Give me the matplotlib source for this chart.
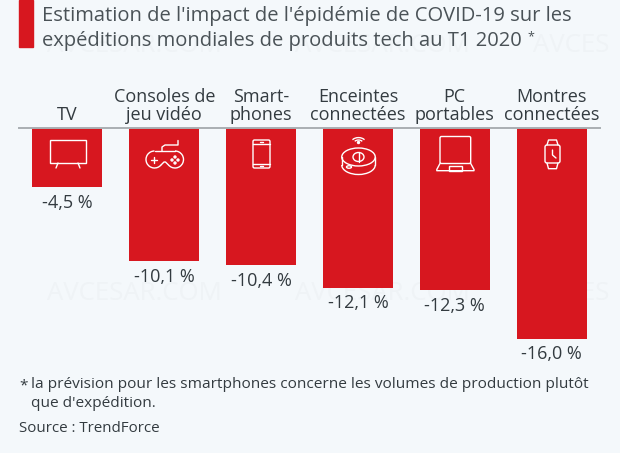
"""Estimated COVID-19 impact on tech shipments, Q1 2020."""
import matplotlib
matplotlib.use("Agg")
import matplotlib.pyplot as plt
from matplotlib.patches import Rectangle, FancyBboxPatch, Ellipse, Circle, Arc

plt.rcParams["font.family"] = ["Open Sans", "DejaVu Sans"]

categories = ["TV", "Consoles de\njeu vidéo", "Smart-\nphones",
              "Enceintes\nconnectées", "PC\nportables", "Montres\nconnectées"]
values = [-4.5, -10.1, -10.4, -12.1, -12.3, -16.0]
value_labels = ["-4,5 %", "-10,1 %", "-10,4 %", "-12,1 %", "-12,3 %", "-16,0 %"]
title_lines = ["Estimation de l'impact de l'épidémie de COVID-19 sur les",
               "expéditions mondiales de produits tech au T1 2020"]
note = "la prévision pour les smartphones concerne les volumes de production plutôt\nque d'expédition."
source = "Source : TrendForce"

W, H = 620, 453
BG = "#f4f8fb"
RED = "#d7171f"
TXT = "#333b40"

fig = plt.figure(figsize=(W / 100, H / 100), dpi=100, facecolor=BG)

# watermark sits behind everything
for wx, wy, mark in [(47, 45, "AVCESAR.COM"), (295, 45, "AVCESAR.COM"), (533, 45, "AVCES"),
                     (47, 293, "AVCESAR.COM"), (295, 293, "AVCESAR.COM"), (533, 293, "AVCES")]:
    fig.text(wx / W, 1 - wy / H, mark, fontsize=18.5, color="#eff3f6", va="center", zorder=-1)

# bars
ax = fig.add_axes([19 / W, 1 - 352.4 / H, 581 / W, 224.4 / H])
ax.patch.set_alpha(0)
ax.bar(range(len(values)), values, width=0.723, color=RED, zorder=2)
ax.set_xlim(-0.5, 5.5)
ax.set_ylim(-17, 0)
ax.axis("off")
ax.axhline(0, color="#a9afb3", lw=1.4, zorder=3, clip_on=False)
for i, (v, lab, cat) in enumerate(zip(values, value_labels, categories)):
    ax.annotate(lab, (i, v), xytext=(0, -11), textcoords="offset points", ha="center",
                va="center", fontsize=13, color=TXT)
    ax.annotate(cat, (i, 0), xytext=(0, 3), textcoords="offset points", ha="center",
                va="bottom", fontsize=13, color=TXT, linespacing=1.0, annotation_clip=False)

# overlay in pixel coordinates for header, footer, icons
px = fig.add_axes([0, 0, 1, 1], zorder=5)
px.patch.set_alpha(0)
px.set_xlim(0, W)
px.set_ylim(H, 0)
px.axis("off")

px.add_patch(Rectangle((19, 0), 14, 47, color=RED))
px.text(42, 16, title_lines[0], fontsize=14.5, color="#4a5257", va="center")
px.text(42, 41, title_lines[1], fontsize=14.5, color="#4a5257", va="center")
px.text(527, 37, "*", fontsize=9, color="#4a5257", va="center")
px.text(19, 386, "*", fontsize=11.1, color=TXT, va="center")
px.text(31, 394, note, fontsize=11.1, color=TXT, va="center", linespacing=1.3)
px.text(19, 428, source, fontsize=10.9, color=TXT, va="center")

# icons
ic = dict(fill=False, ec="white", lw=1, zorder=5)


def seg(xs, ys):
    px.plot(xs, ys, color="white", lw=1, zorder=5, solid_capstyle="round")


# tv
px.add_patch(Rectangle((49.5, 140), 36.5, 23, **ic))
seg([58, 56], [163, 168])
seg([78, 80], [163, 168])
# gamepad
px.add_patch(Arc((154.5, 159.5), 17, 17, theta1=40, theta2=270, **ic))
px.add_patch(Arc((175, 159.5), 17, 17, theta1=-90, theta2=140, **ic))
seg([154.5, 175], [151, 151])
seg([161, 164, 165.5, 168.5], [165, 162, 162, 165])
seg([162, 162, 165, 178, 178], [151, 147, 145, 145, 140.5])
seg([151, 157], [160, 160])
seg([154, 154], [157, 163])
for dx, dy in [(175, 157), (175, 163), (172, 160), (178, 160)]:
    px.add_patch(Circle((dx, dy), 1, color="white", zorder=5))
# phone
px.add_patch(FancyBboxPatch((253, 140), 17, 28, boxstyle="round,pad=0,rounding_size=1.5", **ic))
seg([253, 270], [144, 144])
seg([253, 270], [163.5, 163.5])
seg([260, 263], [166, 166])
seg([260, 263], [142, 142])
# smart speaker
px.add_patch(Ellipse((358.5, 157), 33.5, 18, **ic))
px.add_patch(Arc((358.5, 165), 33.5, 19, theta1=0, theta2=180, **ic))
seg([341.7, 341.7], [157, 165])
seg([375.3, 375.3], [157, 165])
px.add_patch(Ellipse((358.5, 157), 11, 9, fill=False, ec="white", lw=1, zorder=5))
seg([358.5, 358.5], [152, 162])
px.add_patch(Ellipse((349, 167), 5, 2.5, **ic))
for r in (5, 8):
    px.add_patch(Arc((358.5, 144), 2 * r, 1.6 * r, theta1=215, theta2=325, **ic))
px.add_patch(Circle((358.5, 142.5), 1, color="white", zorder=5))
# laptop
px.add_patch(FancyBboxPatch((440, 136.5), 30.7, 27, boxstyle="round,pad=0,rounding_size=1.5", **ic))
px.plot([440, 436.8, 436.8, 474, 474, 470.7], [163.5, 169.5, 170.7, 170.7, 169.5, 163.5],
        color="white", lw=1, zorder=5)
px.add_patch(Rectangle((449, 166), 12.7, 4.7, **ic))
# watch
px.add_patch(FancyBboxPatch((545, 145), 15, 18, boxstyle="round,pad=0,rounding_size=2", **ic))
seg([547, 548.5, 556.5, 558], [145, 140, 140, 145])
seg([547, 548.5, 556.5, 558], [163, 168.7, 168.7, 163])
seg([552.5, 552.5, 556], [150, 155, 158])

fig.savefig("out.png", dpi=100, facecolor=BG)
